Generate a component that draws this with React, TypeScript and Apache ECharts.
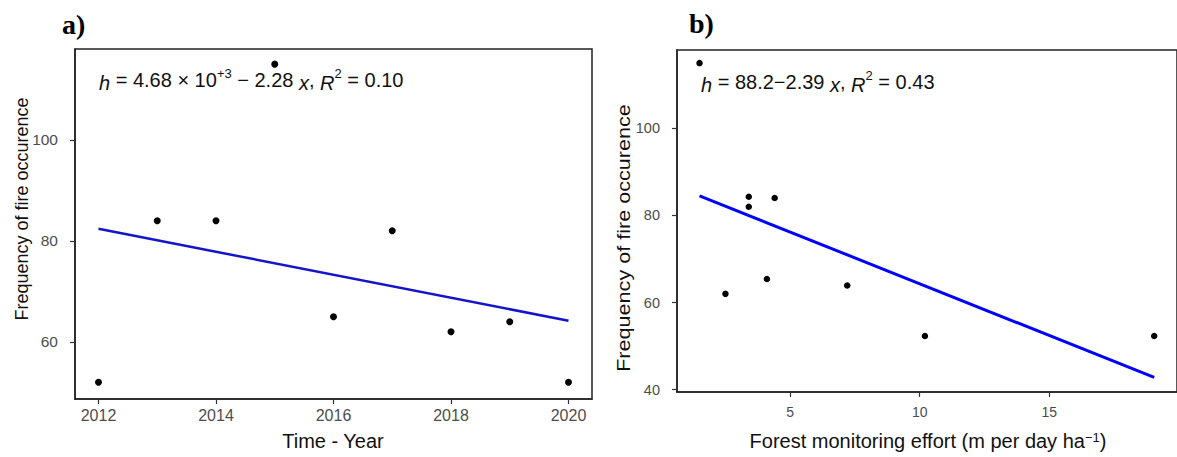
import React, { useEffect, useRef } from "react";
import * as echarts from "echarts";

// ---- data ----
const yearsA = [2012, 2013, 2014, 2015, 2016, 2017, 2018, 2019, 2020];
const freqA = [52, 84, 84, 115, 65, 82, 62, 64, 52];
const fitA = [
  [2012, 82.4],
  [2020, 64.2],
];

const effortB = [1.5, 2.5, 3.4, 3.4, 4.1, 4.4, 7.2, 10.2, 19.05];
const freqB = [115, 62, 84.3, 82, 65.4, 84, 63.9, 52.3, 52.3];
const fitB = [
  [1.5, 84.5],
  [19.05, 42.8],
];

const yearTicks = [2012, 2014, 2016, 2018, 2020];
const freqTicksA = [60, 80, 100];
const effortTicks = [5, 10, 15];
const freqTicksB = [40, 60, 80, 100];

const eqA = "{i|h} = 4.68 × 10{sup|+3} − 2.28 {i|x}, {i|R}{sup|2} = 0.10";
const eqB = "{i|h} = 88.2−2.39 {i|x}, {i|R}{sup|2} = 0.43";
const yTitle = "Frequency of fire occurence";
const xTitleA = "Time - Year";
const xTitleB = "Forest monitoring effort (m per day ha{sup|−1})";

const FONT = '"Liberation Sans", Arial, sans-serif';
const TICK_COLOR = "#4d4d4d";

const richEq = {
  i: { fontStyle: "italic", fontSize: 20, fontFamily: FONT, fill: "#111", color: "#111", verticalAlign: "bottom", lineHeight: 26 },
  sup: { fontSize: 13, fontFamily: FONT, fill: "#111", color: "#111", verticalAlign: "top", lineHeight: 13 },
};

function valAxis(gridIndex: number, min: number, max: number, ticks: number[], fontSize: number, margin: number) {
  return {
    type: "value",
    gridIndex,
    min,
    max,
    splitLine: { show: false },
    axisLine: { show: true, lineStyle: { color: "#222", width: 1.5 } },
    axisTick: { show: true, length: 5, customValues: ticks, lineStyle: { color: "#333", width: 1.2 } },
    axisLabel: {
      show: true,
      customValues: ticks,
      margin,
      color: TICK_COLOR,
      fontSize,
      fontFamily: FONT,
      formatter: (v: number) => String(v),
    },
  };
}

export default function App() {
  const ref = useRef<HTMLDivElement>(null);
  useEffect(() => {
    if (!ref.current) return;
    const chart = echarts.init(ref.current, null, { renderer: "svg" });
    const option = {
      animation: false,
      backgroundColor: "#ffffff",
      grid: [
        { left: 75, top: 49, width: 517, height: 350, show: true, borderColor: "#222", borderWidth: 1.5, backgroundColor: "transparent" },
        { left: 677, top: 50, width: 504, height: 342, show: true, borderColor: "#222", borderWidth: 1.5, backgroundColor: "transparent" },
      ],
      xAxis: [
        valAxis(0, 2011.6, 2020.4, yearTicks, 16, 8),
        valAxis(1, 0.63, 19.93, effortTicks, 14, 13),
      ],
      yAxis: [
        valAxis(0, 48.7, 118.0, freqTicksA, 15.5, 17),
        valAxis(1, 39.45, 118.0, freqTicksB, 14.5, 17),
      ],
      series: [
        {
          type: "line",
          xAxisIndex: 0,
          yAxisIndex: 0,
          data: fitA,
          symbol: "none",
          lineStyle: { color: "#1414c8", width: 2.5 },
          z: 2,
        },
        {
          type: "scatter",
          xAxisIndex: 0,
          yAxisIndex: 0,
          data: yearsA.map((y, i) => [y, freqA[i]]),
          symbolSize: 7,
          itemStyle: { color: "#000", opacity: 1 },
          z: 3,
        },
        {
          type: "line",
          xAxisIndex: 1,
          yAxisIndex: 1,
          data: fitB,
          symbol: "none",
          lineStyle: { color: "#0000ff", width: 3 },
          z: 2,
        },
        {
          type: "scatter",
          xAxisIndex: 1,
          yAxisIndex: 1,
          data: effortB.map((e, i) => [e, freqB[i]]),
          symbolSize: 6.5,
          itemStyle: { color: "#000", opacity: 1 },
          z: 3,
        },
      ],
      graphic: [
        {
          type: "text",
          x: 62,
          y: 24,
          style: { text: "a)", font: 'bold 28px "Liberation Serif", "Times New Roman", serif', fill: "#000", textAlign: "left", textVerticalAlign: "middle", align: "left", verticalAlign: "middle" },
        },
        {
          type: "text",
          x: 689,
          y: 23,
          style: { text: "b)", font: 'bold 28px "Liberation Serif", "Times New Roman", serif', fill: "#000", textAlign: "left", textVerticalAlign: "middle", align: "left", verticalAlign: "middle" },
        },
        {
          type: "text",
          x: 99,
          y: 80,
          style: {
            text: eqA,
            font: `20px ${FONT}`,
            fill: "#111",
            textAlign: "left",
            textVerticalAlign: "middle",
            align: "left",
            verticalAlign: "middle",
            rich: richEq,
          },
        },
        {
          type: "text",
          x: 701,
          y: 82,
          style: {
            text: eqB,
            font: `20px ${FONT}`,
            fill: "#111",
            textAlign: "left",
            textVerticalAlign: "middle",
            align: "left",
            verticalAlign: "middle",
            rich: richEq,
          },
        },
        {
          type: "text",
          x: 333,
          y: 441,
          style: { text: xTitleA, font: `20px ${FONT}`, fill: "#111", textAlign: "center", textVerticalAlign: "middle", align: "center", verticalAlign: "middle" },
        },
        {
          type: "text",
          x: 928,
          y: 441,
          style: {
            text: xTitleB,
            font: `20px ${FONT}`,
            fill: "#111",
            textAlign: "center",
            textVerticalAlign: "middle",
            align: "center",
            verticalAlign: "middle",
            rich: {
              sup: { fontSize: 13, fontFamily: FONT, fill: "#111", color: "#111", verticalAlign: "top", lineHeight: 13 },
            },
          },
        },
        {
          type: "text",
          x: 22,
          y: 209,
          rotation: Math.PI / 2,
          style: { text: yTitle, font: `18px ${FONT}`, fill: "#111", textAlign: "center", textVerticalAlign: "middle", align: "center", verticalAlign: "middle" },
        },
        {
          type: "text",
          x: 624,
          y: 238,
          rotation: Math.PI / 2,
          scaleX: 1.2,
          style: { text: yTitle, font: `18px ${FONT}`, fill: "#111", textAlign: "center", textVerticalAlign: "middle", align: "center", verticalAlign: "middle" },
        },
      ],
    };
    chart.setOption(option as any);
    return () => chart.dispose();
  }, []);
  return (
    <div
      ref={ref}
      style={{ position: "fixed", left: 0, top: 0, width: 1177, height: 457, background: "#fff" }}
    />
  );
}
